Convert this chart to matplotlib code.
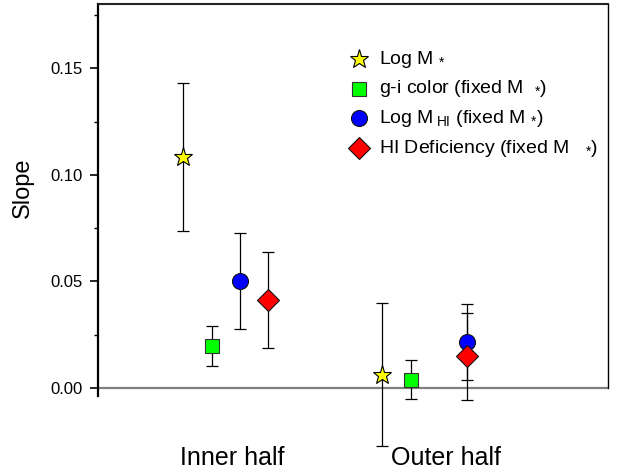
"""
Slope of the radial trend for inner and outer halves, per driving parameter.
"""

import matplotlib
matplotlib.use("Agg")
import matplotlib.pyplot as plt

plt.rcParams.update({
    "font.family": ["Liberation Sans", "DejaVu Sans"],
    "mathtext.fontset": "custom",
    "mathtext.rm": "Liberation Sans",
    "mathtext.it": "Liberation Sans:italic",
    "mathtext.default": "regular",
    "figure.dpi": 100,
})

# ---- data ----
groups = ["Inner half", "Outer half"]

labels = [
    r"Log M $_{*}$",
    r"g-i color (fixed M  $_{*}$)",
    r"Log M$\,_{\rm HI}$ (fixed M $_{*}$)",
    r"HI Deficiency (fixed M   $_{*}$)",
]

slope_logmstar = [0.1082, 0.0063]
err_logmstar = [0.0347, 0.0337]

slope_gi = [0.0196, 0.0039]
err_gi = [0.0094, 0.0091]

slope_loghi = [0.0502, 0.0216]
err_loghi = [0.0223, 0.0180]

slope_hidef = [0.0412, 0.0149]
err_hidef = [0.0225, 0.0205]

# ---- layout / style ----
SLOT = 0.1424                      # spacing between series inside a group
SLOTS = [[-1.5, -1.5], [-0.5, -0.5], [0.5, 1.5], [1.5, 1.5]]  # per series, per group
LABEL_X = [1.031, 2.107]

STYLES = [
    dict(marker="*", ms=14, mfc="#FFFF00", mec="black", mew=0.8),
    dict(marker="s", ms=10.5, mfc="#00FF00", mec="#333333", mew=0.8),
    dict(marker="o", ms=11.5, mfc="#0000FF", mec="#111111", mew=0.8),
    dict(marker="D", ms=11, mfc="#FF0000", mec="#111111", mew=0.8),
]


def main():
    slopes = [slope_logmstar, slope_gi, slope_loghi, slope_hidef]
    errs = [err_logmstar, err_gi, err_loghi, err_hidef]

    fig = plt.figure(figsize=(6.23, 4.74))
    ax = fig.add_axes([98 / 623, 1 - 452 / 474, 510 / 623, 447.7 / 474])

    ax.axhline(0, color="#808080", lw=1.6, zorder=1)

    for i, (y, e) in enumerate(zip(slopes, errs)):
        x = [g + 1 + SLOTS[i][g] * SLOT for g in range(len(groups))]
        ax.errorbar(x, y, yerr=e, fmt="none", ecolor="black", elinewidth=0.9,
                    capsize=4, capthick=0.9, zorder=2)
        ax.plot(x, y, ls="none", zorder=3 + i, **STYLES[i])

    ax.set_xlim(0.358, 2.921)
    ax.set_ylim(-0.03, 0.18)

    # spines drawn Origin-style
    ax.spines["bottom"].set_visible(False)
    ax.spines["left"].set_bounds(-0.0035, 0.18)
    ax.spines["left"].set_linewidth(1.6)
    ax.spines["top"].set_linewidth(1.5)
    ax.spines["top"].set_color("#222222")
    ax.spines["right"].set_bounds(0, 0.18)
    ax.spines["right"].set_linewidth(1.0)

    ax.set_yticks([0.0, 0.05, 0.10, 0.15])
    ax.set_yticklabels(["0.00", "0.05", "0.10", "0.15"])
    ax.set_yticks([0.025, 0.075, 0.125, 0.175], minor=True)
    ax.tick_params(axis="y", which="major", direction="out", length=6,
                   width=1.2, labelsize=12, pad=5)
    ax.tick_params(axis="y", which="minor", direction="out", length=3, width=1.0)
    ax.set_xticks([])

    for gx, name in zip(LABEL_X, groups):
        ax.text(gx, -0.033, name, ha="center", va="center", fontsize=18,
                clip_on=False)

    fig.text(23 / 623, 1 - 188 / 474, "Slope", rotation=90, ha="center",
             va="center", fontsize=17)

    # legend, placed by hand
    row_y = [59.3, 88.7, 118.3, 148.3]
    for i, lab in enumerate(labels):
        yy = 1 - row_y[i] / 474
        ax.plot([359 / 623], [yy], transform=fig.transFigure, ls="none",
                clip_on=False, **STYLES[i])
        fig.text(379 / 623, yy, lab, ha="left", va="center", fontsize=14)

    fig.savefig("out.png", dpi=100)
    plt.close(fig)


if __name__ == "__main__":
    main()
